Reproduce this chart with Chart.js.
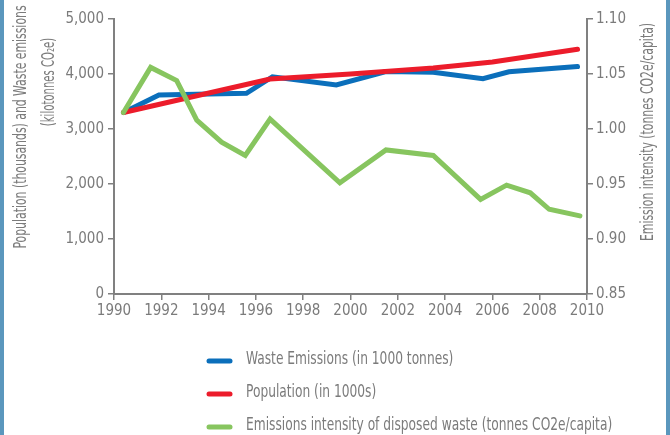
<!DOCTYPE html>
<html>
<head>
<meta charset="utf-8">
<script src="https://cdn.jsdelivr.net/npm/chart.js@4.4.1/dist/chart.umd.min.js"></script>
<style>
  html, body { margin: 0; padding: 0; background: #fff; }
  #wrap { position: relative; width: 670px; height: 435px; }
  .edge { position: absolute; top: 0; width: 4px; height: 435px; background: #5b97bd; }
</style>
</head>
<body>
<div id="wrap">
  <canvas id="myChart" width="670" height="435"></canvas>
  <div class="edge" style="left:0"></div>
  <div class="edge" style="left:666px"></div>
</div>
<script>
// waste emissions (kilotonnes CO2e)
const wasteYears = [1990.4, 1991.9, 1995.6, 1996.7, 1999.4, 2001.5, 2003.5, 2005.6, 2006.7, 2009.6];
const wasteEmissions = [3300, 3620, 3650, 3950, 3800, 4045, 4030, 3915, 4040, 4135];

// population (thousands)
const popYears = [1990.4, 1996.6, 2000.0, 2003.5, 2006.0, 2009.6];
const population = [3300, 3910, 4000, 4110, 4220, 4450];

// emission intensity (tonnes CO2e / capita)
const intensityYears = [1990.4, 1991.55, 1992.65, 1993.5, 1994.55, 1995.55, 1996.6, 1999.55, 2001.5, 2003.5, 2005.5, 2006.6, 2007.6, 2008.4, 2009.7];
const emissionIntensity = [1.015, 1.056, 1.044, 1.008, 0.988, 0.976, 1.009, 0.951, 0.981, 0.976, 0.936, 0.949, 0.942, 0.927, 0.921];

const seriesLabels = [
  "Waste Emissions (in 1000 tonnes)",
  "Population (in 1000s)",
  "Emissions intensity of disposed waste (tonnes CO2e/capita)",
];

const leftTitle = ["Population (thousands) and Waste emissions", "(kilotonnes CO\u2082e)"];
const rightTitle = "Emission intensity (tonnes CO2e/capita)";

const GREY = "#808080";
const TEXT = "#7b7b7b";
const FONT = "'DejaVu Sans Condensed', 'DejaVu Sans', sans-serif";

function points(xs, ys) {
  return xs.map((x, i) => ({ x: x, y: ys[i] }));
}

// axis titles + vertical legend drawn on the canvas (text narrowed with a scale)
const extras = {
  id: "extras",
  afterDraw(chart) {
    const ctx = chart.ctx;
    ctx.save();
    ctx.fillStyle = TEXT;
    ctx.textBaseline = "middle";

    const put = (text, x, y, angle, align, squeeze) => {
      ctx.save();
      ctx.translate(x, y);
      ctx.rotate(angle);
      ctx.scale(squeeze, 1);
      ctx.textAlign = align;
      ctx.fillText(text, 0, 0);
      ctx.restore();
    };
    ctx.font = "17px " + FONT;
    put(leftTitle[0], 22, 127, -Math.PI / 2, "center", 0.71);
    put(leftTitle[1], 50, 82, -Math.PI / 2, "center", 0.66);
    put(rightTitle, 649, 132, -Math.PI / 2, "center", 0.71);

    // legend
    chart.data.datasets.forEach((ds, i) => {
      const y = 360 + i * 33;
      ctx.strokeStyle = ds.borderColor;
      ctx.lineWidth = 5;
      ctx.lineCap = "round";
      ctx.beginPath();
      ctx.moveTo(209, y + 1);
      ctx.lineTo(230, y + 1);
      ctx.stroke();
      put(ds.label, 246, y, 0, "left", 0.8);
    });
    ctx.restore();
  },
};

const config = {
  type: "line",
  data: {
    datasets: [
      {
        label: seriesLabels[0],
        data: points(wasteYears, wasteEmissions),
        borderColor: "#0b6fbb",
        yAxisID: "y",
        order: 3,
      },
      {
        label: seriesLabels[1],
        data: points(popYears, population),
        borderColor: "#ec1c2b",
        yAxisID: "y",
        order: 2,
      },
      {
        label: seriesLabels[2],
        data: points(intensityYears, emissionIntensity),
        borderColor: "#87c55f",
        yAxisID: "y1",
        order: 1,
      },
    ],
  },
  options: {
    responsive: false,
    animation: false,
    layout: { padding: { top: 19, bottom: 111, left: 0, right: 0 } },
    elements: {
      line: { borderWidth: 5, tension: 0, borderCapStyle: "round", borderJoinStyle: "miter" },
      point: { radius: 0, hoverRadius: 0 },
    },
    plugins: {
      legend: { display: false },
      tooltip: { enabled: false },
    },
    scales: {
      x: {
        type: "linear",
        min: 1990,
        max: 2010,
        ticks: {
          stepSize: 2,
          color: TEXT,
          font: { size: 15, family: FONT },
          padding: 2,
          maxRotation: 0,
          autoSkip: false,
          callback: (v) => String(v),
        },
        grid: { drawOnChartArea: false, tickLength: 6, color: GREY, lineWidth: 1.5 },
        border: { color: GREY, width: 2 },
        afterFit: (s) => { s.height = 30; },
      },
      y: {
        position: "left",
        min: 0,
        max: 5000,
        ticks: {
          stepSize: 1000,
          color: TEXT,
          font: { size: 15, family: FONT },
          padding: 4,
          callback: (v) => v.toLocaleString("en-US"),
        },
        grid: { drawOnChartArea: false, tickLength: 6, color: GREY, lineWidth: 1.5 },
        border: { color: GREY, width: 2 },
        afterFit: (s) => { s.width = 114; },
      },
      y1: {
        position: "right",
        min: 0.85,
        max: 1.1,
        ticks: {
          stepSize: 0.05,
          color: TEXT,
          font: { size: 15, family: FONT },
          padding: 3,
          callback: (v) => v.toFixed(2),
        },
        grid: { drawOnChartArea: false, tickLength: 6, color: GREY, lineWidth: 1.5 },
        border: { color: GREY, width: 2 },
        afterFit: (s) => { s.width = 83; },
      },
    },
  },
  plugins: [extras],
};

const myChart = new Chart(document.getElementById("myChart"), config);
</script>
</body>
</html>
